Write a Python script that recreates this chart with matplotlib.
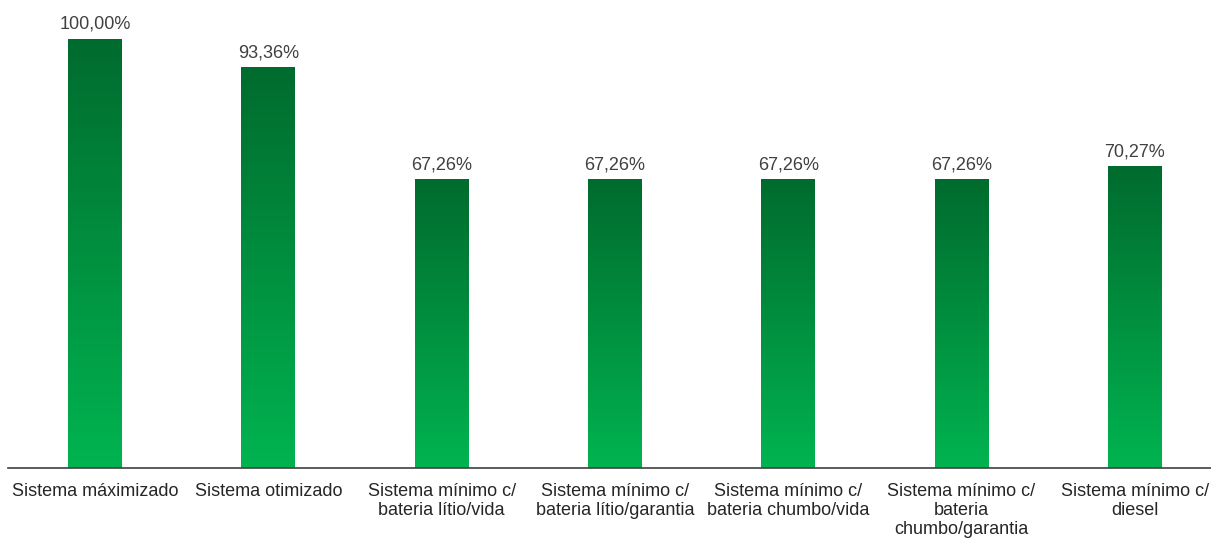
import matplotlib.pyplot as plt
import numpy as np
from matplotlib.colors import LinearSegmentedColormap

categories = [
    "Sistema máximizado",
    "Sistema otimizado",
    "Sistema mínimo c/\nbateria lítio/vida",
    "Sistema mínimo c/\nbateria lítio/garantia",
    "Sistema mínimo c/\nbateria chumbo/vida",
    "Sistema mínimo c/\nbateria\nchumbo/garantia",
    "Sistema mínimo c/\ndiesel",
]
values = [100.00, 93.36, 67.26, 67.26, 67.26, 67.26, 70.27]
value_labels = ["100,00%", "93,36%", "67,26%", "67,26%", "67,26%", "67,26%", "70,27%"]

plt.rcParams["font.family"] = ["Liberation Sans", "DejaVu Sans"]

W, H = 1211, 539
fig = plt.figure(figsize=(W / 100, H / 100), dpi=100)
slot = 173.3
left = 95 - slot / 2
ax = fig.add_axes([left / W, (H - 468) / H, 7 * slot / W, 429 / H])

cmap = LinearSegmentedColormap.from_list("grn", ["#00B450", "#006B2E"])
grad = np.linspace(0, 1, 256).reshape(-1, 1)

x = np.arange(len(categories))
bars = ax.bar(x, values, width=0.31, color="none", edgecolor="none", zorder=2)
for bar, lab in zip(bars, value_labels):
    bx, bw, bh = bar.get_x(), bar.get_width(), bar.get_height()
    ax.imshow(grad, extent=[bx, bx + bw, 0, bh], origin="lower", aspect="auto",
              cmap=cmap, zorder=2)
    ax.text(bx + bw / 2, bh + 1.5, lab, ha="center", va="bottom",
            fontsize=13, color="#404040")

ax.set_xlim(-0.5, 6.5)
ax.set_ylim(0, 100)
ax.set_xticks(x)
ax.set_xticklabels(categories, fontsize=13, color="#262626", linespacing=1.15)
ax.tick_params(axis="x", length=0, pad=11)
ax.set_yticks([])
for side in ["top", "right", "left"]:
    ax.spines[side].set_visible(False)
ax.spines["bottom"].set_color("#404040")
ax.spines["bottom"].set_linewidth(1.2)

fig.savefig("out.png", dpi=100, facecolor="white")
